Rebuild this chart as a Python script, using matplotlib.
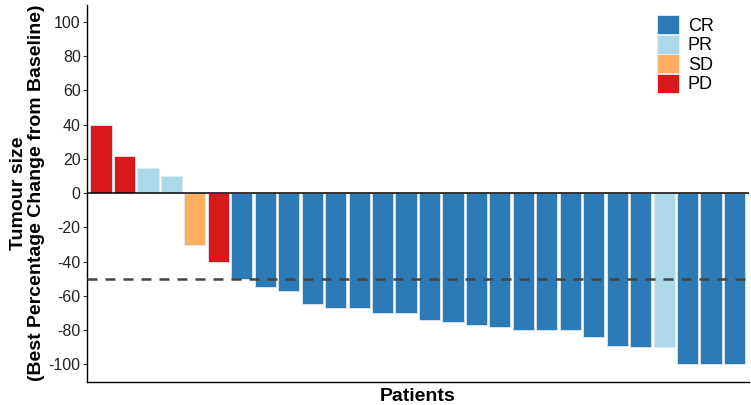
import matplotlib
matplotlib.use('Agg')
import matplotlib.pyplot as plt
from matplotlib.patches import Patch

plt.rcParams['font.family'] = ['Liberation Sans', 'DejaVu Sans']

# best percentage change per patient, sorted as in the waterfall
change = [40, 22, 15, 10, -30, -40, -50, -55, -57, -65, -67, -67, -70, -70,
          -74, -75, -77, -78, -80, -80, -80, -84, -89, -90, -90, -100, -100, -100]
response = ['PD', 'PD', 'PR', 'PR', 'SD', 'PD', 'CR', 'CR', 'CR', 'CR', 'CR', 'CR', 'CR', 'CR',
            'CR', 'CR', 'CR', 'CR', 'CR', 'CR', 'CR', 'CR', 'CR', 'CR', 'PR', 'CR', 'CR', 'CR']
groups = ['CR', 'PR', 'SD', 'PD']
colours = {'CR': '#2C7BB6', 'PR': '#ABD9E9', 'SD': '#FDAE61', 'PD': '#D7191C'}
yticks = [100, 80, 60, 40, 20, 0, -20, -40, -60, -80, -100]

fig = plt.figure(figsize=(7.51, 4.05), dpi=100)
ax = fig.add_axes([0.1158, 0.058, 0.881, 0.93])

x = list(range(1, len(change) + 1))
ax.bar(x, change, width=0.9, color=[colours[r] for r in response],
       edgecolor='#dde8f0', linewidth=0.6)

ax.axhline(0, color='black', lw=1.1, zorder=3)
ax.axhline(-50, color='#444444', lw=1.8, ls=(0, (4, 3.2)), zorder=3)

ax.set_xlim(0.4, len(change) + 0.6)
ax.set_ylim(-110, 110)
ax.set_xticks([])
ax.set_yticks(yticks)
ax.set_yticklabels([str(t) for t in yticks], fontsize=11.5, color='#222222')
ax.tick_params(axis='y', length=3, width=0.8, color='#333333', pad=1.5)

for s in ['top', 'right']:
    ax.spines[s].set_visible(False)
ax.spines['left'].set_linewidth(1.0)
ax.spines['bottom'].set_linewidth(1.0)

ax.set_xlabel('Patients', fontsize=14, fontweight='bold', labelpad=5)
ax.set_ylabel('Tumour size\n(Best Percentage Change from Baseline)', fontsize=14,
              fontweight='bold', labelpad=3, linespacing=1.05)

handles = [Patch(facecolor=colours[g], edgecolor='#e6eef5', linewidth=0.6) for g in groups]
ax.legend(handles, groups, loc='upper left', bbox_to_anchor=(0.862, 0.972), frameon=False,
          fontsize=13, handlelength=1.2, handleheight=1.22, handletextpad=0.5,
          labelspacing=0.0, borderaxespad=0.0, borderpad=0.0)

fig.savefig('out.png', dpi=100)
